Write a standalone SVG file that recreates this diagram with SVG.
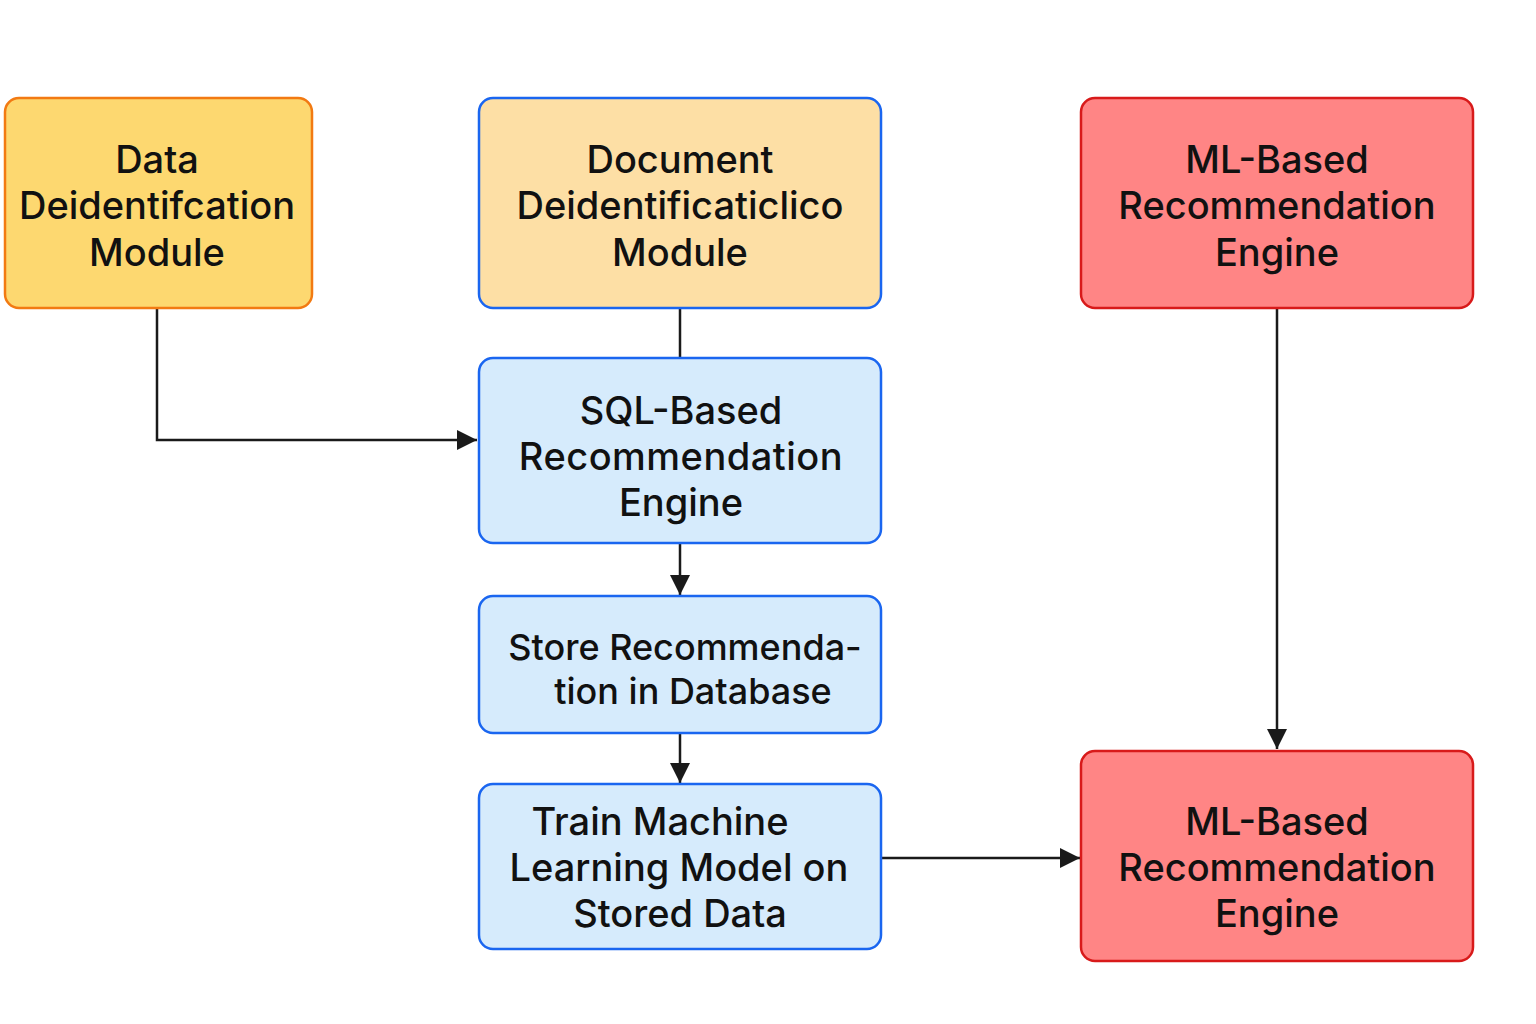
<svg xmlns="http://www.w3.org/2000/svg" width="1536" height="1024" viewBox="0 0 1536 1024">
<defs>
<marker id="arr" viewBox="0 0 10 10" refX="10" refY="5" markerWidth="20" markerHeight="20" markerUnits="userSpaceOnUse" orient="auto">
<path d="M0,0 L10,5 L0,10 Z" fill="#1a1a1a"/>
</marker>
<style>
.box{stroke-width:2.5}
.yel{fill:#FDD870;stroke:#F27A12}
.tan{fill:#FDDFA5;stroke:#1A66F0}
.red{fill:#FF8585;stroke:#D81A1A}
.blu{fill:#D6EBFC;stroke:#1A66F0}
.t{font-family:Inter,"Noto Sans","Liberation Sans",sans-serif;font-size:38px;font-weight:500;fill:#111;text-anchor:middle}
.c{fill:none;stroke:#1a1a1a;stroke-width:2.5}
</style>
</defs>
<rect width="1536" height="1024" fill="#fff"/>
<g id="connectors">
<path class="c" d="M157,308 V440 H477" marker-end="url(#arr)"/>
<path class="c" d="M680,308 V358"/>
<path class="c" d="M680,543 V595" marker-end="url(#arr)"/>
<path class="c" d="M680,733 V783" marker-end="url(#arr)"/>
<path class="c" d="M1277,308 V749" marker-end="url(#arr)"/>
<path class="c" d="M881,858 H1080" marker-end="url(#arr)"/>
</g>
<g id="data-deid">
<rect class="box yel" x="5" y="98" width="307" height="210" rx="14"/>
<text class="t"><tspan x="157" y="173">Data</tspan><tspan x="157" y="219">Deidentifcation</tspan><tspan x="157" y="266">Module</tspan></text>
</g>
<g id="doc-deid">
<rect class="box tan" x="479" y="98" width="402" height="210" rx="14"/>
<text class="t"><tspan x="680" y="173">Document</tspan><tspan x="680" y="219">Deidentificaticlico</tspan><tspan x="680" y="266">Module</tspan></text>
</g>
<g id="ml-engine-top">
<rect class="box red" x="1081" y="98" width="392" height="210" rx="14"/>
<text class="t"><tspan x="1277" y="173">ML-Based</tspan><tspan x="1277" y="219">Recommendation</tspan><tspan x="1277" y="266">Engine</tspan></text>
</g>
<g id="sql-engine">
<rect class="box blu" x="479" y="358" width="402" height="185" rx="14"/>
<text class="t"><tspan x="681" y="424">SQL-Based</tspan><tspan x="681" y="470" letter-spacing="0.5">Recommendation</tspan><tspan x="681" y="516">Engine</tspan></text>
</g>
<g id="store">
<rect class="box blu" x="479" y="596" width="402" height="137" rx="14"/>
<text class="t" style="font-size:36px"><tspan x="685" y="660">Store Recommenda-</tspan><tspan x="693" y="704">tion in Database</tspan></text>
</g>
<g id="train">
<rect class="box blu" x="479" y="784" width="402" height="165" rx="14"/>
<text class="t"><tspan x="660" y="835">Train Machine</tspan><tspan x="679" y="881">Learning Model on</tspan><tspan x="680" y="927">Stored Data</tspan></text>
</g>
<g id="ml-engine-bottom">
<rect class="box red" x="1081" y="751" width="392" height="210" rx="14"/>
<text class="t"><tspan x="1277" y="835">ML-Based</tspan><tspan x="1277" y="881">Recommendation</tspan><tspan x="1277" y="927">Engine</tspan></text>
</g>
</svg>
